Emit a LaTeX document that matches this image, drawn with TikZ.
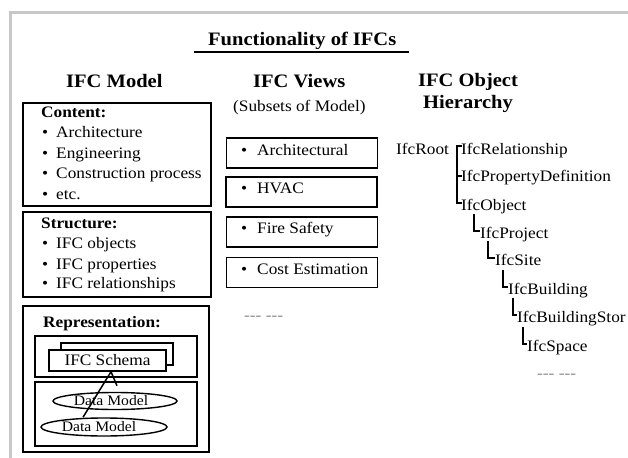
\documentclass[tikz,border=0pt]{standalone}
\usepackage{fontspec}
\setmainfont{Liberation Serif}[FakeStretch=1.08]
\newfontfamily\dashfont{Liberation Serif}[Ligatures=TeXOff,FakeStretch=1.08]
\usetikzlibrary{calc,shapes.geometric}

\begin{document}
\begin{tikzpicture}[x=1pt,y=-1pt,
  frame/.style={draw=black!22, line width=3pt},
  boxline/.style={draw=black, line width=1.4pt},
  txt/.style={font=\fontsize{16}{19}\selectfont, inner sep=0pt, anchor=base west},
  heading/.style={font=\fontsize{19}{22}\selectfont\bfseries, inner sep=0pt, anchor=base west},
  boxhead/.style={font=\fontsize{16}{19}\selectfont\bfseries, inner sep=0pt, anchor=base west},
  viewbox/.style={boxline, rectangle, inner sep=0pt, minimum width=151pt, minimum height=30pt},
  schemabox/.style={boxline, fill=white, rectangle, inner sep=0pt, font=\fontsize{16}{19}\selectfont},
  dmshape/.style={boxline, ellipse, inner sep=0pt},
  dmtxt/.style={font=\fontsize{14.5}{17}\selectfont, inner sep=0pt},
  link/.style={draw=black, line width=1.5pt},
  tree/.style={draw=black, line width=2.4pt},
  treetxt/.style={font=\fontsize{16}{19}\selectfont, inner sep=0pt, anchor=base west,
                  text height=12pt, text depth=4pt},
  more/.style={font=\fontsize{16}{19}\selectfont\dashfont, text=black!45, inner sep=0pt, anchor=base west},
]
\clip (0,0) rectangle (628,457);
\fill[white] (0,0) rectangle (628,457);

% slide frame
\draw[frame] (10.5,470) -- (10.5,12.5) -- (640,12.5);

% title
\node[heading] (title) at (208,45.5) {Functionality of IFCs};
\draw[line width=1.8pt] (194,52) -- (409,52);

% column headings
\node[heading] (hmodel) at (66,88) {IFC Model};
\node[heading] (hviews) at (253,88) {IFC Views};
\node[txt] (hsub) at (233,112) {(Subsets of Model)};
\node[heading] (hobj) at (418,87) {IFC Object};
\node[heading] (hhier) at (423,109) {Hierarchy};

% ---- IFC Model column ----
\path[boxline] (23,103) rectangle (211,206);
\node[boxhead] (content) at (41,118) {Content:};
\node[txt] (c1) at (42,138) {\textbullet\hspace{8pt}Architecture};
\node[txt] (c2) at (42,158) {\textbullet\hspace{8pt}Engineering};
\node[txt] (c3) at (42,178) {\textbullet\hspace{8pt}Construction process};
\node[txt] (c4) at (42,199) {\textbullet\hspace{8pt}etc.};

\path[boxline] (23,212) rectangle (211,297);
\node[boxhead] (structure) at (41,228) {Structure:};
\node[txt] (s1) at (42,248) {\textbullet\hspace{8pt}IFC objects};
\node[txt] (s2) at (42,269) {\textbullet\hspace{8pt}IFC properties};
\node[txt] (s3) at (42,288) {\textbullet\hspace{8pt}IFC relationships};

\path[boxline] (23,306) rectangle (209,452);
\node[boxhead] (repr) at (43,327) {Representation:};
\path[boxline] (35,336) rectangle (197,377);
\path[boxline] (35,382) rectangle (197,446);

\node[schemabox, minimum width=112pt, minimum height=22pt] (schemaback) at (117,354) {};
\node[schemabox, minimum width=117pt, minimum height=21pt] (schema) at (107.5,360.5) {IFC Schema};

\node[dmshape, minimum width=124pt, minimum height=17pt] (dm1) at (115,401) {};
\node[dmtxt] at (111,401) {Data Model};
\node[dmshape, minimum width=126pt, minimum height=18pt] (dm2) at (104,427) {};
\node[dmtxt] at (99,427) {Data Model};

\draw[link] ($(dm2.north)+(-21,0)$) -- ($(schema.south)+(3.5,0)$) -- ($(dm1.north)+(2,-6)$);

% ---- IFC Views column ----
\node[viewbox] (v1) at (302,153) {};
\node[viewbox] (v2) at (301.5,192) {};
\node[viewbox] (v3) at (302,232) {};
\node[viewbox] (v4) at (302,272.5) {};
\node[txt] (t1) at (241,155) {\textbullet\hspace{10pt}Architectural};
\node[txt] (t2) at (241,193) {\textbullet\hspace{10pt}HVAC};
\node[txt] (t3) at (241,233) {\textbullet\hspace{10pt}Fire Safety};
\node[txt] (t4) at (241,274) {\textbullet\hspace{10pt}Cost Estimation};
\node[more] (vmore) at (244,320) {--- ---};

% ---- IFC Object Hierarchy ----
\node[treetxt] (root)  at (396,154) {IfcRoot};
\node[treetxt] (rel)   at (461,154) {IfcRelationship};
\node[treetxt] (prop)  at (461,181) {IfcPropertyDefinition};
\node[treetxt] (obj)   at (461,210) {IfcObject};
\node[treetxt] (proj)  at (480,238) {IfcProject};
\node[treetxt] (site)  at (495,265) {IfcSite};
\node[treetxt] (bldg)  at (508,294) {IfcBuilding};
\node[treetxt] (stor)  at (517,322) {IfcBuildingStor};
\node[treetxt] (space) at (527,351) {IfcSpace};
\node[more] (tmore) at (537,378) {--- ---};

\draw[tree] ($(root.east)+(7,-4)$) -- ($(rel.west)+(1,-4)$);
\draw[tree] ($(rel.west)+(-4,-4)$) |- ($(obj.west)+(1,-3)$);
\draw[tree] ($(prop.west)+(-4,-1)$) -- ($(prop.west)+(1,-1)$);
\draw[tree] ($(proj.west)+(-6,-20)$)  |- ($(proj.west)+(0,-3)$);
\draw[tree] ($(site.west)+(-7,-20)$)  |- ($(site.west)+(0,-3)$);
\draw[tree] ($(bldg.west)+(-5,-20)$)  |- ($(bldg.west)+(0,-3)$);
\draw[tree] ($(stor.west)+(-4,-20)$)  |- ($(stor.west)+(0,-3)$);
\draw[tree] ($(space.west)+(-4,-20)$) |- ($(space.west)+(0,-3)$);
\end{tikzpicture}
\end{document}
